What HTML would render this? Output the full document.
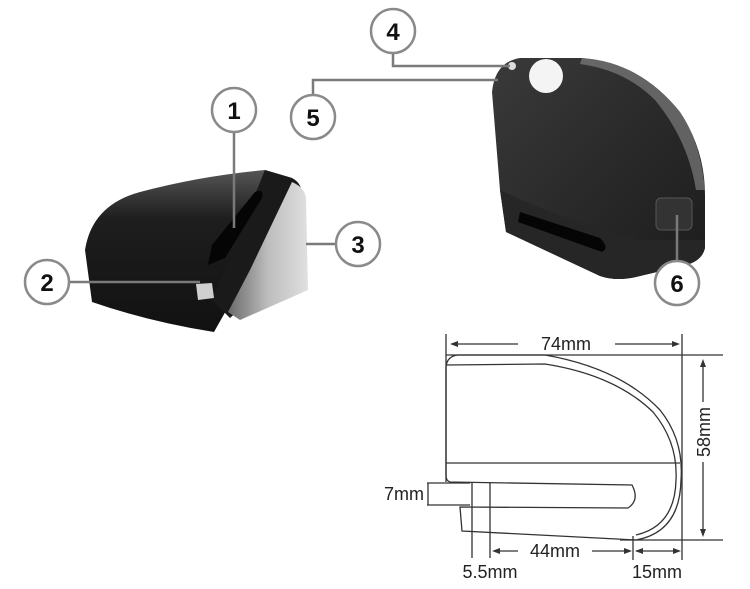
<!DOCTYPE html>
<html><head><meta charset="utf-8"><style>
html,body{margin:0;padding:0;background:#fff;}
svg{display:block;font-family:"Liberation Sans",Arial,sans-serif;}
</style></head><body>
<svg width="750" height="589" viewBox="0 0 750 589" xmlns="http://www.w3.org/2000/svg">
<defs>
<linearGradient id="dk" x1="0" y1="0" x2="0" y2="1">
<stop offset="0" stop-color="#555"/><stop offset="0.3" stop-color="#1e1e1e"/><stop offset="1" stop-color="#111"/></linearGradient>
<linearGradient id="sv" x1="0" y1="0" x2="1" y2="0">
<stop offset="0" stop-color="#6a6a6a"/><stop offset="0.5" stop-color="#bdbdbd"/><stop offset="1" stop-color="#e0e0e0"/></linearGradient>
<linearGradient id="rk" x1="0" y1="0" x2="1" y2="1">
<stop offset="0" stop-color="#3a3a3a"/><stop offset="0.5" stop-color="#2a2a2a"/><stop offset="1" stop-color="#1c1c1c"/></linearGradient>
</defs>

<!-- left lock -->
<path d="M85,250 Q92,205 140,192 Q200,176 265,170 L292,178 L232,300 L214,332 Q150,322 92,302 Z" fill="url(#dk)"/>
<path d="M265,170 L292,178 Q305,185 300,200 L250,300 L230,318 L212,300 Z" fill="#1a1a1a"/>
<path d="M292,182 Q306,188 306,200 L308,290 L240,320 L228,312 L250,270 Z" fill="url(#sv)"/>
<path d="M255,192 Q265,188 262,198 L225,258 L208,265 L212,245 Z" fill="#050505"/>
<path d="M196,284 L212,283 L214,298 L198,300 Z" fill="#cfcfcf"/>

<!-- right lock -->
<path d="M492,92 Q495,62 520,58 L582,58 Q640,62 680,112 Q705,150 705,195 L705,248 Q702,262 682,266 L640,276 Q618,282 600,276 L506,232 L500,190 Z" fill="url(#rk)"/>
<path d="M582,58 Q640,62 680,112 Q700,140 705,190 L696,190 Q688,140 655,100 Q625,70 580,64 Z" fill="#8a8a8a" opacity="0.6"/>
<path d="M500,190 Q560,220 640,240 L705,240 L705,248 Q702,262 682,266 L640,276 Q618,282 600,276 L506,232 Z" fill="#262626"/>
<path d="M520,212 L600,238 Q610,248 602,252 L518,222 Z" fill="#050505"/>
<rect x="656" y="198" width="36" height="32" rx="5" fill="#333" stroke="#555"/>
<circle cx="546" cy="76" r="17" fill="#f4f4f4"/>
<circle cx="512" cy="66" r="4" fill="#ddd"/>

<!-- leaders -->
<g stroke="#7a7a7a" stroke-width="2.5" fill="none">
<line x1="234" y1="132" x2="234" y2="228"/>
<line x1="69" y1="282" x2="200" y2="282"/>
<line x1="336" y1="244" x2="306" y2="244"/>
<polyline points="393,53 393,66 510,66"/>
<polyline points="313,95 313,80 498,80"/>
<line x1="677" y1="261" x2="677" y2="215"/>
</g>
<g stroke="#8a8a8a" stroke-width="2.5" fill="#fff">
<circle cx="234" cy="110" r="22"/><circle cx="47" cy="282" r="22"/><circle cx="358" cy="244" r="22"/>
<circle cx="393" cy="31" r="22"/><circle cx="313" cy="117" r="22"/><circle cx="677" cy="283" r="22"/>
</g>
<g font-size="24" font-weight="bold" text-anchor="middle" fill="#111">
<text x="234" y="119">1</text><text x="47" y="291">2</text><text x="358" y="253">3</text>
<text x="393" y="40">4</text><text x="313" y="126">5</text><text x="677" y="292">6</text>
</g>

<!-- dimension drawing -->
<g stroke="#333" stroke-width="1.3" fill="none">
<line x1="446" y1="334" x2="446" y2="482"/>
<line x1="682" y1="334" x2="682" y2="560"/>
<line x1="446" y1="355" x2="723" y2="355"/>
<line x1="620" y1="540" x2="723" y2="540"/>
<path d="M446,367 Q447,356 458,355 L545,355 Q620,368 660,410 Q684,440 681,480 Q680,532 636,540 L462,531 L460,507 L628,508 Q640,500 632,485 L450,482 Q446,481 446,475 Z"/>
<path d="M447,365 L545,364 Q615,375 653,412 Q678,442 676,480 Q675,526 636,535"/>
<line x1="446" y1="463" x2="680" y2="463"/>
<line x1="472" y1="483" x2="472" y2="558"/>
<line x1="490" y1="483" x2="490" y2="558"/>
<line x1="427" y1="483" x2="470" y2="483"/>
<line x1="427" y1="505" x2="470" y2="505"/>
<line x1="428" y1="483" x2="428" y2="505"/>
<line x1="633" y1="536" x2="633" y2="560"/>
<line x1="452" y1="344" x2="518" y2="344"/>
<line x1="615" y1="344" x2="678" y2="344"/>
<line x1="703" y1="362" x2="703" y2="402"/>
<line x1="703" y1="462" x2="703" y2="535"/>
<line x1="494" y1="551" x2="518" y2="551"/>
<line x1="592" y1="551" x2="630" y2="551"/>
<line x1="636" y1="551" x2="679" y2="551"/>
</g>
<g fill="#333">
<path d="M450,344 l8,-3 v6z"/><path d="M680,344 l-8,-3 v6z"/>
<path d="M703,359 l-3,8 h6z"/><path d="M703,537 l-3,-8 h6z"/>
<path d="M492,551 l8,-3 v6z"/><path d="M632,551 l-8,-3 v6z"/>
<path d="M635,551 l8,-3 v6z"/><path d="M681,551 l-8,-3 v6z"/>
</g>
<g font-size="18" fill="#222">
<text x="566" y="350" text-anchor="middle">74mm</text>
<text x="555" y="557" text-anchor="middle">44mm</text>
<text x="490" y="578" text-anchor="middle">5.5mm</text>
<text x="657" y="578" text-anchor="middle">15mm</text>
<text x="424" y="500" text-anchor="end">7mm</text>
<text x="0" y="0" text-anchor="middle" transform="translate(710,432) rotate(-90)">58mm</text>
</g>
</svg>
</body></html>
